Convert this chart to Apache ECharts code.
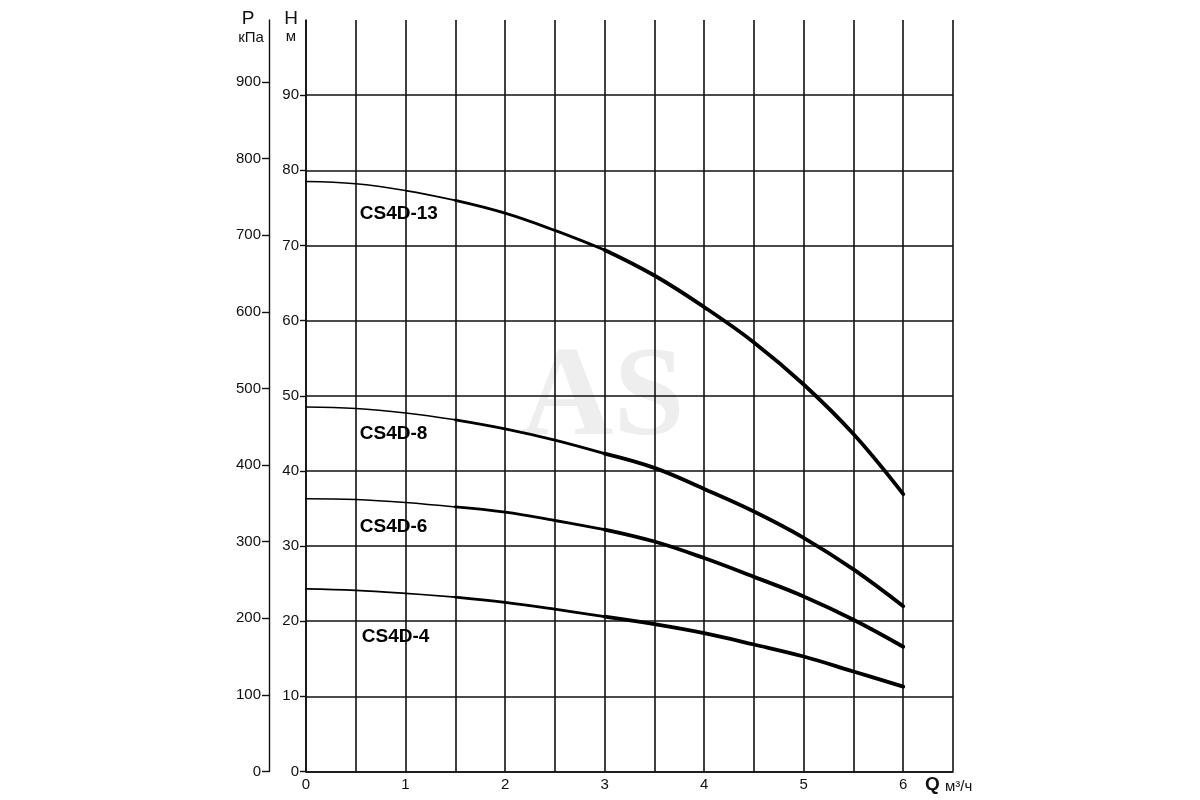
<!DOCTYPE html>
<html>
<head>
<meta charset="utf-8">
<script src="https://cdn.jsdelivr.net/npm/echarts@6/dist/echarts.min.js"></script>
<style>
html,body{margin:0;padding:0;background:#fff;}
#chart{width:1200px;height:800px;}
</style>
</head>
<body>
<div id="chart"></div>
<script>
// Flow Q, m3/h
const qValues = [0, 0.5, 1, 1.5, 2, 2.5, 3, 3.5, 4, 4.5, 5, 5.5, 6];
// Head H, m
const h13 = [78.5, 78.2, 77.3, 76.0, 74.3, 72.0, 69.4, 66.0, 61.8, 57.1, 51.5, 44.9, 36.9];
const h8  = [48.5, 48.3, 47.7, 46.8, 45.6, 44.1, 42.3, 40.4, 37.6, 34.6, 31.1, 26.9, 22.0];
const h6  = [36.3, 36.2, 35.8, 35.2, 34.5, 33.4, 32.2, 30.6, 28.4, 25.9, 23.3, 20.2, 16.6];
const h4  = [24.3, 24.1, 23.7, 23.2, 22.5, 21.6, 20.6, 19.6, 18.4, 16.9, 15.3, 13.3, 11.3];
const curveNames = ['CS4D-13', 'CS4D-8', 'CS4D-6', 'CS4D-4'];
const curves = [h13, h8, h6, h4];
// curve label anchor positions (Q, H)
const labelQ = [0.54, 0.54, 0.54, 0.56];
const labelH = [74.2, 44.9, 32.6, 17.9];
// tick labels
const qTicks = [0, 1, 2, 3, 4, 5, 6];
const hTicks = [0, 10, 20, 30, 40, 50, 60, 70, 80, 90];
const pTicks = [0, 100, 200, 300, 400, 500, 600, 700, 800, 900];
const hMax = 100;
const pMax = hMax * 9.81;

const FONT = "'Liberation Sans', Arial, sans-serif";
const INK = '#111';

const chart = echarts.init(document.getElementById('chart'));

const series = [];
const segs = [[0, 4, 1.6], [3, 7, 2.8], [6, 13, 3.8]];
curves.forEach((arr, ci) => {
  const pts = qValues.map((q, i) => [q, arr[i]]);
  segs.forEach(([a, b, w]) => {
    series.push({
      type: 'line',
      xAxisIndex: 0, yAxisIndex: 0,
      data: pts.slice(a, b),
      smooth: 0.4,
      showSymbol: false,
      symbol: 'none',
      silent: true,
      z: 5,
      lineStyle: { color: '#000', width: w, cap: 'round', join: 'round' }
    });
  });
});
series.push({
  type: 'scatter',
  xAxisIndex: 0, yAxisIndex: 0,
  symbolSize: 0,
  silent: true,
  z: 6,
  itemStyle: { opacity: 1, color: '#000' },
  data: curveNames.map((n, i) => ({ name: n, value: [labelQ[i], labelH[i]] })),
  label: {
    show: true,
    position: 'right',
    distance: 0,
    formatter: p => p.name,
    fontFamily: FONT,
    fontWeight: 'bold',
    fontSize: 19,
    color: '#000',
    opacity: 1
  }
});

chart.setOption({
  animation: false,
  backgroundColor: '#fff',
  grid: { left: 306, right: 247, top: 20, bottom: 28.5, containLabel: false },
  xAxis: {
    type: 'value', min: 0, max: 6.5, interval: 0.5,
    axisLine: { show: true, lineStyle: { color: INK, width: 1.6 } },
    axisTick: { show: false },
    axisLabel: {
      customValues: qTicks,
      margin: 6, fontFamily: FONT, fontSize: 15, color: '#111',
      formatter: v => String(v)
    },
    splitLine: { show: true, lineStyle: { color: INK, width: 1.6 } }
  },
  yAxis: [
    {
      type: 'value', min: 0, max: hMax, interval: 10,
      position: 'left',
      axisLine: { show: true, lineStyle: { color: INK, width: 1.6 } },
      axisTick: { show: true, customValues: hTicks, length: 6, inside: false, lineStyle: { color: INK, width: 1.4 } },
      axisLabel: {
        customValues: hTicks,
        margin: 7, fontFamily: FONT, fontSize: 15, color: '#111',
        formatter: v => String(v)
      },
      splitLine: { show: true, lineStyle: { color: INK, width: 1.6 } }
    },
    {
      type: 'value', min: 0, max: pMax, interval: 100,
      position: 'left', offset: 37,
      axisLine: { show: true, lineStyle: { color: INK, width: 1.4 } },
      axisTick: { show: true, customValues: pTicks, length: 7, inside: false, lineStyle: { color: INK, width: 1.4 } },
      axisLabel: {
        customValues: pTicks,
        margin: 8, fontFamily: FONT, fontSize: 15, color: '#111',
        formatter: v => String(v)
      },
      splitLine: { show: false }
    }
  ],
  graphic: [
    { type: 'text', z: -10, left: 521, top: 337,
      style: { text: 'AS', font: "bold 128px 'Liberation Serif', 'DejaVu Serif', serif", fill: '#eeeeee' } },
    { type: 'text', x: 248, y: 19, style: { text: 'P', font: '19px ' + FONT, fill: '#111', textAlign: 'center', textVerticalAlign: 'middle' } },
    { type: 'text', x: 251, y: 38, style: { text: 'кПа', font: '15px ' + FONT, fill: '#111', textAlign: 'center', textVerticalAlign: 'middle' } },
    { type: 'text', x: 291, y: 19, style: { text: 'H', font: '19px ' + FONT, fill: '#111', textAlign: 'center', textVerticalAlign: 'middle' } },
    { type: 'text', x: 291, y: 37, style: { text: 'м', font: '15px ' + FONT, fill: '#111', textAlign: 'center', textVerticalAlign: 'middle' } },
    { type: 'text', x: 925, y: 785, style: { text: 'Q', font: 'bold 19px ' + FONT, fill: '#111', textVerticalAlign: 'middle' } },
    { type: 'text', x: 945, y: 787, style: { text: 'м³/ч', font: '15px ' + FONT, fill: '#111', textVerticalAlign: 'middle' } }
  ],
  series: series
});
</script>
</body>
</html>
